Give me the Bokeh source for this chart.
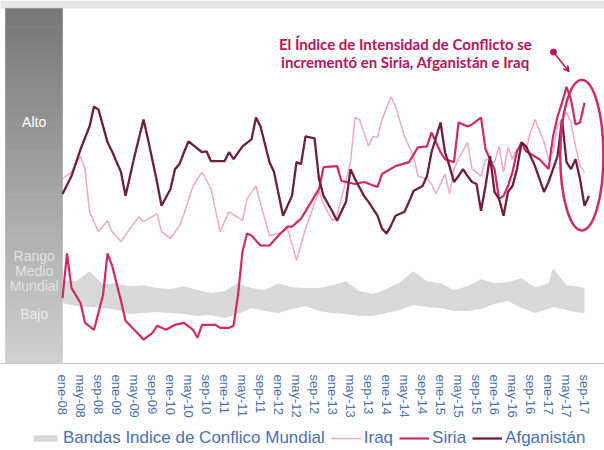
from bokeh.plotting import figure
from bokeh.layouts import column
from bokeh.models import (Range1d, FixedTicker, Legend, LegendItem, Arrow, VeeHead)
from bokeh.core.properties import value
from bokeh.embed import file_html
from bokeh.resources import INLINE

# ---------------- data (month index 0 = ene-08) ----------------
tick_months = list(range(0, 117, 4))
mes = ["ene", "may", "sep"]
tick_labels = [f"{mes[i % 3]}-{8 + i // 3:02d}" for i in range(len(tick_months))]

band_m = [0, 3, 6, 9, 12, 15, 18, 21, 24, 27, 30, 33, 36, 39, 42, 45, 48, 51, 54, 57,
          60, 63, 66, 69, 72, 75, 78, 81, 84, 87, 90, 93, 96, 99, 102, 105, 108,
          109, 112, 114, 116]
band_top = [8.4, 8.3, 9.3, 8.0, 8.1, 7.8, 7.9, 7.6, 7.5, 7.8, 7.4, 7.1, 7.3, 8.1, 7.6, 7.4,
            8.1, 7.7, 7.6, 7.6, 7.9, 8.3, 7.3, 7.0, 7.5, 8.2, 9.3, 8.3, 8.1, 7.4, 7.8, 8.5,
            8.1, 8.2, 8.6, 7.7, 8.1, 9.6, 7.9, 7.8, 7.6]
band_bot = [6.1, 5.8, 5.7, 5.6, 5.4, 5.0, 5.1, 5.2, 5.1, 5.0, 4.8, 4.9, 4.6, 5.0, 5.6, 5.3,
            5.1, 5.5, 5.8, 5.3, 5.1, 5.0, 4.8, 4.8, 5.1, 5.4, 5.9, 5.7, 5.6, 5.3, 5.3, 5.5,
            6.0, 6.3, 5.6, 5.1, 5.5, 5.7, 5.4, 5.2, 5.1]

irq_m = [0, 2, 4, 5, 6, 8, 10, 11, 13, 15, 17, 18, 20, 21, 22, 24, 26, 27, 29, 30, 31, 33,
         35, 37, 40, 41, 43, 44, 46, 48, 50, 52, 54, 57, 58, 60, 61, 64, 65, 66, 68, 69,
         70, 71, 73, 74, 76, 78, 79, 81, 82, 83, 85, 86, 87, 88, 90, 91, 93, 94, 96, 97,
         98, 99, 100, 101, 103, 104, 105, 107, 108, 109, 110, 112, 113, 114, 115, 116]
irq_v = [18.6, 19.3, 20.9, 19.6, 15.3, 13.3, 14.4, 13.3, 12.3, 13.6, 14.8, 14.3, 14.8, 15.1,
         13.3, 12.6, 13.9, 15.1, 17.9, 18.6, 19.3, 17.6, 13.3, 15.3, 14.4, 16.6, 17.9, 16.1,
         12.9, 13.1, 13.6, 10.4, 13.6, 17.4, 16.1, 14.4, 14.9, 20.3, 24.8, 24.6, 21.9, 22.9,
         22.8, 24.6, 26.9, 25.9, 22.9, 20.9, 18.9, 18.6, 18.1, 17.1, 19.1, 17.1, 19.6, 20.6,
         22.3, 19.6, 18.9, 20.6, 20.3, 21.9, 19.3, 21.8, 20.6, 21.6, 21.6, 23.3, 24.6, 22.3,
         20.6, 21.3, 23.9, 25.3, 24.3, 21.9, 19.9, 19.3]

sir_m = [0, 1, 2, 4, 5, 7, 9, 10, 11, 13, 14, 17, 18, 20, 21, 23, 25, 27, 29, 30, 31, 34,
         35, 37, 38, 39, 40, 41, 42, 44, 46, 48, 50, 51, 53, 55, 57, 58, 61, 62, 65, 67,
         70, 71, 74, 77, 79, 81, 82, 84, 85, 87, 88, 90, 91, 93, 94, 96, 97, 98, 99, 100,
         101, 102, 103, 106, 108, 109, 110, 111, 112, 113, 114, 115, 116]
sir_v = [6.6, 11.1, 7.6, 6.1, 4.1, 3.4, 6.9, 11.1, 9.9, 6.3, 4.3, 2.9, 2.4, 3.1, 3.8, 3.4,
         3.9, 4.1, 3.4, 2.6, 3.9, 3.9, 3.6, 3.6, 3.8, 6.9, 11.3, 13.1, 12.9, 11.9, 11.9,
         12.9, 13.8, 13.8, 14.6, 16.1, 17.6, 19.8, 19.9, 18.4, 18.1, 18.3, 17.8, 19.1,
         19.9, 20.3, 21.8, 21.9, 23.3, 21.3, 20.6, 20.3, 24.3, 23.9, 24.1, 24.8, 21.6,
         19.6, 16.6, 16.9, 17.9, 19.3, 21.4, 22.3, 21.4, 20.6, 19.6, 22.9, 24.9, 26.3,
         27.9, 26.6, 24.1, 24.3, 26.3]

afg_m = [0, 2, 4, 6, 7, 8, 10, 11, 13, 14, 16, 18, 19, 21, 22, 24, 25, 26, 27, 28, 31, 32,
         33, 36, 37, 38, 40, 42, 43, 44, 46, 47, 49, 51, 52, 53, 54, 56, 57, 58, 60, 61,
         63, 64, 65, 67, 68, 70, 71, 72, 73, 74, 76, 77, 78, 80, 81, 82, 84, 85, 86, 87,
         88, 89, 90, 91, 92, 93, 94, 95, 96, 97, 98, 99, 100, 101, 102, 103, 104, 105,
         106, 107, 108, 109, 110, 111, 112, 113, 114, 115, 116, 117]
afg_v = [17.1, 18.9, 21.6, 23.9, 25.9, 25.6, 22.3, 21.4, 19.3, 16.9, 20.9, 24.6, 22.6, 18.3,
         15.9, 17.6, 19.6, 20.1, 21.3, 22.4, 21.3, 21.4, 20.4, 20.4, 21.3, 20.6, 21.9, 22.6,
         24.8, 23.9, 20.3, 19.3, 14.9, 16.9, 20.3, 20.1, 22.9, 22.7, 18.6, 16.9, 15.3, 14.4,
         16.3, 19.6, 18.6, 16.9, 16.3, 14.9, 13.6, 13.1, 13.9, 14.9, 15.3, 16.3, 17.4, 17.9,
         18.9, 21.3, 24.3, 21.3, 19.9, 18.3, 18.9, 19.6, 18.9, 18.3, 18.1, 15.4, 17.9, 20.9,
         17.3, 16.6, 14.9, 17.3, 17.9, 19.6, 22.3, 21.9, 20.9, 19.9, 18.6, 17.3, 18.3, 19.6,
         20.9, 24.6, 20.3, 19.6, 20.6, 18.6, 15.9, 16.9]

level_labels = ["Alto", "Rango", "Medio", "Mundial", "Bajo"]
level_pos = [24.3, 10.8, 9.3, 7.8, 5.0]
level_colors = ["#ffffff", "#e2e2e2", "#e2e2e2", "#e2e2e2", "#ebebeb"]

note_lines = ["El Índice de Intensidad de Conflicto se",
              "incrementó en Siria, Afganistán e Iraq"]

legend_labels = ["Bandas Indice de Conflico Mundial", "Iraq", "Siria", "Afganistán"]

C_IRQ = "#f3a9c3"
C_SIR = "#d02a69"
C_AFG = "#6e1f40"
C_BAND = "#d9d9d9"
C_NOTE = "#b8155b"
C_BLUE = "#4a70b5"
FONT = "Liberation Sans"

# ---------------- main figure ----------------
X0, X1 = -13.78, 120.44
Y0, Y1, YTOP = 0, 35.8, 36.6
p = figure(width=604, height=420, output_backend="svg", toolbar_location=None,
           x_range=Range1d(X0, X1), y_range=Range1d(Y0, YTOP),
           min_border_left=0, min_border_right=0, min_border_top=0,
           min_border_bottom=54)
p.outline_line_color = None
p.grid.visible = False
p.yaxis.visible = False
p.background_fill_color = "white"

# decorative top strip and left gradient panel
p.quad(left=X0, right=X1, bottom=Y1, top=YTOP, fill_color="#e6e6e6", line_color=None)
n = 40
for i in range(n):
    t = i / (n - 1)
    g = int(0xd0 - (0xd0 - 0x78) * t)
    col = "#%02x%02x%02x" % (g, g, g)
    b = Y0 + (Y1 - Y0) * i / n
    p.quad(left=-12.67, right=0, bottom=b, top=b + (Y1 - Y0) / n,
           fill_color=col, line_color=col, line_width=0.6)

p.text(x=[-6.3] * len(level_labels), y=level_pos, text=level_labels,
       text_color=level_colors, text_font=value(FONT), text_font_size="14px",
       text_align="center", text_baseline="middle")

# series
p.varea(x=band_m, y1=band_bot, y2=band_top, fill_color=C_BAND)
p.line(irq_m, irq_v, line_color=C_IRQ, line_width=1.5)
p.line(sir_m, sir_v, line_color=C_SIR, line_width=2.2)
p.line(afg_m, afg_v, line_color=C_AFG, line_width=2.3)

# annotation
p.ellipse(x=[115.4], y=[21.0], width=[9.6], height=[15.2], fill_color=None,
          line_color=C_SIR, line_width=2.5)
p.text(x=[76.2, 76.2], y=[32.2, 30.4], text=note_lines, text_color=C_NOTE,
       text_font=value("Lato"), text_font_style="bold", text_font_size="15px",
       text_align="center", text_baseline="middle")
p.scatter(x=[109.1], y=[31.4], size=6, color=C_NOTE)
p.add_layout(Arrow(x_start=109.1, y_start=31.4, x_end=112.6, y_end=29.4,
                   line_color=C_NOTE, line_width=1.5,
                   end=VeeHead(size=6, line_color=C_NOTE, fill_color=C_NOTE)))

# x axis
ax = p.xaxis[0]
ax.ticker = FixedTicker(ticks=tick_months)
ax.major_label_overrides = {m: l for m, l in zip(tick_months, tick_labels)}
ax.major_label_orientation = "vertical"
ax.major_label_text_color = C_BLUE
ax.major_label_text_font = FONT
ax.major_label_text_font_size = "13px"
ax.major_label_standoff = 5
ax.major_tick_line_color = None
ax.minor_tick_line_color = None
ax.axis_line_color = "#c9ccd4"

# ---------------- legend strip (proxy glyphs kept outside the visible range) ----------------
q = figure(width=604, height=30, output_backend="svg", toolbar_location=None,
           x_range=Range1d(0, 1), y_range=Range1d(0, 1),
           min_border_left=0, min_border_right=0, min_border_top=0, min_border_bottom=0)
q.outline_line_color = None
q.grid.visible = False
q.axis.visible = False
off = [-5, -4]
g_band = q.varea(x=off, y1=off, y2=off, fill_color=C_BAND)
g_irq = q.line(off, off, line_color=C_IRQ, line_width=1.5)
g_sir = q.line(off, off, line_color=C_SIR, line_width=2.2)
g_afg = q.line(off, off, line_color=C_AFG, line_width=2.3)
legend = Legend(items=[LegendItem(label=l, renderers=[r])
                       for l, r in zip(legend_labels, [g_band, g_irq, g_sir, g_afg])],
                orientation="horizontal", location=(30, 2),
                label_text_font=FONT, label_text_font_size="17px",
                label_text_color=C_BLUE, glyph_width=30, glyph_height=8,
                label_height=17, label_standoff=3, spacing=6, padding=2, margin=0,
                border_line_color=None, background_fill_alpha=0)
q.add_layout(legend)

layout = column(p, q, spacing=0)
open("out.html", "w").write(file_html(layout, INLINE))
